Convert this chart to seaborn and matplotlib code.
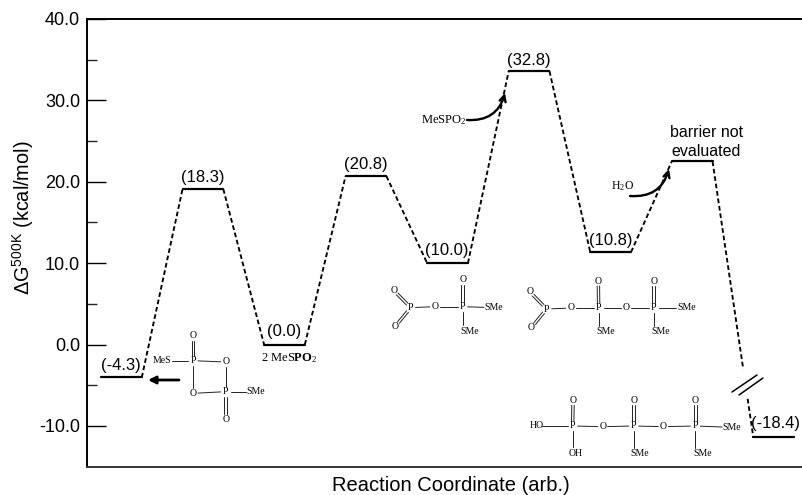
import matplotlib
matplotlib.use("Agg")
import matplotlib.pyplot as plt
from matplotlib.transforms import Affine2D
import numpy as np
import pandas as pd
import seaborn as sns

# energy levels as drawn, and the labels printed on them
levels = [-4.05, 19.1, 0.0, 20.7, 10.0, 33.6, 11.35, 22.5, -11.4]
level_labels = ["(-4.3)", "(18.3)", "(0.0)", "(20.8)", "(10.0)", "(32.8)", "(10.8)", "", "(-18.4)"]
label_dx = [-1, 0, 0, 0, -1, 0, 0, 0, 2]
label_dy = [12, 12, 13, 12, 13, 11, 12, 0, 14]
yticks = [-10, 0, 10, 20, 30, 40]
yticklabels = ["-10.0", "0.0", "10.0", "20.0", "30.0", "40.0"]
minor_ticks = [-5, 5, 15, 25, 35]
width = 0.5

sns.set_theme(style="white")
plt.rcParams["font.family"] = ["Liberation Sans", "DejaVu Sans"]
plt.rcParams["mathtext.fontset"] = "custom"
plt.rcParams["mathtext.rm"] = "Liberation Serif"
plt.rcParams["mathtext.bf"] = "Liberation Serif:bold"
plt.rcParams["mathtext.default"] = "regular"
plt.rcParams["lines.dashed_pattern"] = [2.5, 1.5]

fig = plt.figure(figsize=(8.03, 4.95), dpi=100)
ax = fig.add_axes([87 / 803, 28.4 / 495, 716 / 803, 447.6 / 495])

# pixel coordinates of the image, for the chemistry drawings
PX = Affine2D().scale(1, -1).translate(0, 495)

steps = np.arange(len(levels))
plateaus = pd.DataFrame({
    "x": np.concatenate([steps, steps + width]),
    "G": levels + levels,
    "unit": np.concatenate([steps, steps]),
})
links = pd.DataFrame({
    "x": np.concatenate([steps[:-1] + width, steps[1:]]),
    "G": levels[:-1] + levels[1:],
    "unit": np.concatenate([steps[:-1], steps[:-1]]),
})
sns.lineplot(data=links, x="x", y="G", units="unit", estimator=None, sort=False,
             color="black", lw=1.35, linestyle="--", ax=ax)
sns.lineplot(data=plateaus, x="x", y="G", units="unit", estimator=None, sort=False,
             color="black", lw=1.6, ax=ax)

ax.set_xlim(-14 / 81.54, 702 / 81.54)
ax.set_ylim(-15, 40)
ax.set_xticks([])
ax.set_yticks(yticks)
ax.set_yticklabels(yticklabels)
ax.set_yticks(minor_ticks, minor=True)
ax.tick_params(axis="y", which="major", direction="in", length=13.7, width=1, left=True,
               labelsize=13, pad=5, colors="black")
ax.tick_params(axis="y", which="minor", direction="in", length=7, width=1, left=True)
ax.spines["right"].set_visible(False)
for side in ["left", "top", "bottom"]:
    ax.spines[side].set_color("black")
    ax.spines[side].set_linewidth(1.4)
ax.spines["bottom"].set_color("#333333")

ax.set_xlabel("Reaction Coordinate (arb.)", fontsize=14.5, color="black")
ax.xaxis.set_label_coords(0.508, -0.022)
ax.set_ylabel(r"ΔG$^{500K}$ (kcal/mol)", fontsize=14.3, color="black")
ax.yaxis.set_label_coords(-0.071, 0.555)

for i, text in enumerate(level_labels):
    ax.annotate(text, (i + width / 2, levels[i]), xytext=(label_dx[i], label_dy[i]),
                textcoords="offset pixels", ha="center", va="center", fontsize=12, color="black")
ax.text(707, 132.5, "barrier not", transform=PX, ha="center", va="center", fontsize=11.5, color="black")
ax.text(706, 151, "evaluated", transform=PX, ha="center", va="center", fontsize=11.5, color="black")

# axis break on the last link
ax.plot([743.5, 748.5], [369, 398], transform=PX, color="white", lw=4, solid_capstyle="butt", zorder=3)
ax.plot([732, 757], [392, 375], transform=PX, color="black", lw=1.1, zorder=4)
ax.plot([739, 763], [395, 378], transform=PX, color="black", lw=1.1, zorder=4)


def atom(x, y, s, size=7):
    ax.text(x, y, s, transform=PX, family="Liberation Serif", fontsize=size, ha="center",
            va="center", color="black", clip_on=False, zorder=5)


def bond(a, b, order=1, gap=(5, 5)):
    a, b = np.array(a, float), np.array(b, float)
    d = (b - a) / np.hypot(*(b - a))
    n = np.array([-d[1], d[0]])
    start, end = a + d * gap[0], b - d * gap[1]
    offsets = [0] if order == 1 else [-1.2, 1.2]
    for o in offsets:
        p, q = start + n * o, end + n * o
        ax.plot([p[0], q[0]], [p[1], q[1]], transform=PX, color="#222222", lw=0.7, zorder=5)


def molecule(origin, atoms, bonds):
    pts = {k: (origin[0] + v[0] / 3, origin[1] + v[1] / 3) for k, v in atoms.items()}
    for k, v in atoms.items():
        atom(*pts[k], v[2])
    for a, b, order in bonds:
        ga = 10 if len(atoms[a][2]) > 2 else 5
        gb = 10 if len(atoms[b][2]) > 2 else 5
        bond(pts[a], pts[b], order, (ga, gb))


# four-ring dimer
molecule((90, 290),
         {"a": (215, 212, "MeS"), "p1": (309, 212, "P"), "o1": (407, 216, "O"), "ot": (309, 137, "O"),
          "o2": (309, 310, "O"), "p2": (407, 305, "P"), "s": (498, 305, "SMe"), "ob": (407, 388, "O")},
         [("a", "p1", 1), ("p1", "o1", 1), ("p1", "ot", 2), ("p1", "o2", 1), ("o1", "p2", 1),
          ("o2", "p2", 1), ("p2", "s", 1), ("p2", "ob", 2)])
# O2P-O-P(O)(SMe)2
molecule((370, 240),
         {"o1": (71, 151, "O"), "o2": (76, 259, "O"), "p1": (122, 203, "P"), "o3": (194, 200, "O"),
          "p2": (278, 200, "P"), "ot": (278, 120, "O"), "s1": (372, 203, "SMe"), "s2": (300, 274, "SMe")},
         [("o1", "p1", 2), ("o2", "p1", 2), ("p1", "o3", 1), ("o3", "p2", 1), ("p2", "ot", 2),
          ("p2", "s1", 1)])
bond((370 + 278 / 3, 240 + 200 / 3), (370 + 278 / 3, 240 + 274 / 3), 1, (5, 6))
# O2P-O-P-O-P
molecule((370, 240),
         {"o1": (479, 155, "O"), "o2": (484, 263, "O"), "p1": (530, 207, "P"), "o3": (602, 204, "O"),
          "p2": (686, 204, "P"), "ot": (685, 123, "O"), "s1": (708, 276, "SMe"), "o4": (768, 204, "O"),
          "p3": (851, 204, "P"), "ot2": (851, 123, "O"), "s2": (949, 204, "SMe"), "s3": (872, 276, "SMe")},
         [("o1", "p1", 2), ("o2", "p1", 2), ("p1", "o3", 1), ("o3", "p2", 1), ("p2", "ot", 2),
          ("p2", "o4", 1), ("o4", "p3", 1), ("p3", "ot2", 2), ("p3", "s2", 1)])
bond((370 + 686 / 3, 240 + 204 / 3), (370 + 686 / 3, 240 + 276 / 3), 1, (5, 6))
bond((370 + 851 / 3, 240 + 204 / 3), (370 + 851 / 3, 240 + 276 / 3), 1, (5, 6))
# phosphoric product
molecule((550, 360),
         {"ho": (-40, 198, "HO"), "p1": (68, 198, "P"), "ot1": (69, 121, "O"), "o1": (158, 200, "O"),
          "p2": (251, 198, "P"), "ot2": (251, 121, "O"), "o2": (340, 200, "O"), "p3": (436, 198, "P"),
          "ot3": (436, 121, "O"), "s1": (546, 202, "SMe"), "oh": (78, 279, "OH"), "s2": (270, 281, "SMe"),
          "s3": (458, 281, "SMe")},
         [("ho", "p1", 1), ("p1", "ot1", 2), ("p1", "o1", 1), ("o1", "p2", 1), ("p2", "ot2", 2),
          ("p2", "o2", 1), ("o2", "p3", 1), ("p3", "ot3", 2), ("p3", "s1", 1)])
for zx, zy in [(68, 279), (251, 281), (436, 281)]:
    bond((550 + zx / 3, 360 + 198 / 3), (550 + zx / 3, 360 + zy / 3), 1, (5, 6))

atom(289, 358, r"2 MeS$\mathbf{PO}_2$", size=9)
atom(443.5, 120, r"MeSPO$_2$", size=9)
atom(623, 186, r"H$_2$O", size=8.5)

ax.annotate("", xy=(148, 380), xytext=(179, 380), xycoords=PX, textcoords=PX,
            arrowprops=dict(arrowstyle="-|>", color="black", lw=2, mutation_scale=11, shrinkA=0, shrinkB=0))
ax.annotate("", xy=(505, 93), xytext=(467, 120), xycoords=PX, textcoords=PX,
            arrowprops=dict(arrowstyle="->", color="black", lw=1.7, mutation_scale=11, shrinkA=0, shrinkB=0,
                            connectionstyle="arc3,rad=0.4"))
ax.annotate("", xy=(669, 169), xytext=(630, 196), xycoords=PX, textcoords=PX,
            arrowprops=dict(arrowstyle="->", color="black", lw=1.7, mutation_scale=11, shrinkA=0, shrinkB=0,
                            connectionstyle="arc3,rad=0.4"))

fig.savefig("out.png", dpi=100)
